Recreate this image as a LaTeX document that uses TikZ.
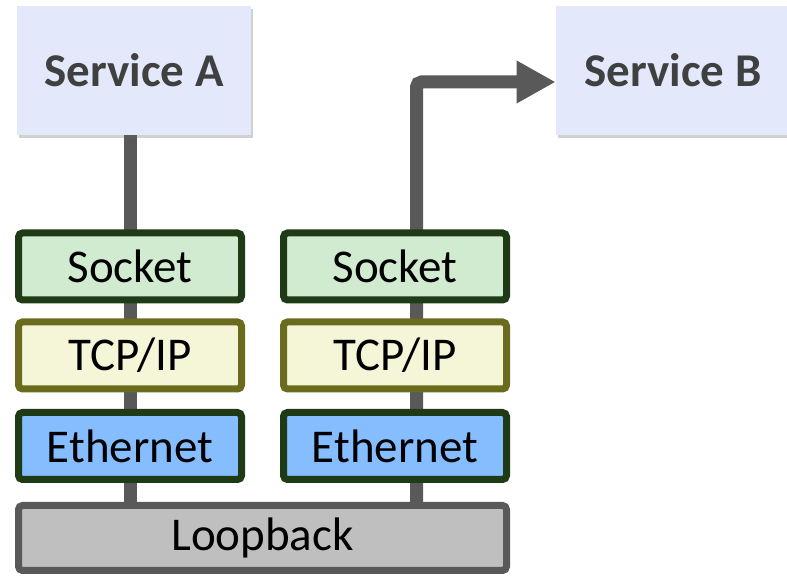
\documentclass[tikz,border=0pt]{standalone}
\usepackage{fontspec}
\setmainfont{Carlito}
\usetikzlibrary{arrows.meta,shadows,backgrounds}

\definecolor{srvfill}{HTML}{E3E9FB}
\definecolor{srvtext}{HTML}{404040}
\definecolor{wire}{HTML}{595959}
\definecolor{sockfill}{HTML}{D1EBD0}
\definecolor{sockdraw}{HTML}{1E3B16}
\definecolor{tcpfill}{HTML}{F5F6D8}
\definecolor{tcpdraw}{HTML}{6B6B1E}
\definecolor{ethfill}{HTML}{85BDFF}
\definecolor{lbkfill}{HTML}{BFBFBF}

\tikzset{
    service/.style={fill=srvfill, text=srvtext, minimum width=117pt, minimum height=64.5pt,
        inner sep=0pt, font=\fontsize{23.5}{28}\selectfont\bfseries,
        drop shadow={shadow xshift=1pt, shadow yshift=-1.5pt, opacity=0.3, fill=black!60}},
    layer/.style={draw, line width=3.5pt, rounded corners=2pt, minimum width=111.5pt,
        minimum height=33.5pt, inner sep=0pt, font=\fontsize{23.5}{28}\selectfont,
        drop shadow={shadow xshift=1pt, shadow yshift=-1.5pt, opacity=0.15, fill=black!60}},
    sockbox/.style={layer, fill=sockfill, draw=sockdraw},
    tcpbox/.style={layer, fill=tcpfill, draw=tcpdraw},
    ethbox/.style={layer, fill=ethfill, draw=sockdraw},
    wireline/.style={draw=wire, line width=6.5pt},
}

\begin{document}
\begin{tikzpicture}[x=0.5pt, y=-0.5pt]
    \useasboundingbox (0,0) rectangle (787,576);

    % Servicos
    \node[service] (srvA) at (134,70.5) {Service A};
    \node[service] (srvB) at (673,70.5) {Service B};

    % Pilha esquerda
    \node[sockbox] (sockL) at (130,266.5) {Socket};
    \node[tcpbox]  (tcpL)  at (130,355.5) {TCP/IP};
    \node[ethbox]  (ethL)  at (130,446)   {Ethernet};

    % Pilha direita
    \node[sockbox] (sockR) at (395,266.5) {Socket};
    \node[tcpbox]  (tcpR)  at (395,355.5) {TCP/IP};
    \node[ethbox]  (ethR)  at (395,446)   {Ethernet};

    % Loopback
    \node[layer, fill=lbkfill, draw=wire, minimum width=244pt, minimum height=32.5pt]
        (lbk) at (262.5,538) {Loopback};

    % Caminho dos dados
    \coordinate (bend) at (416.5,82);
    \begin{scope}[on background layer]
        \draw[wireline] (srvA.south -| sockL) -- (lbk.north -| sockL);
        \draw[wireline, rounded corners=2.5pt, -{Triangle[length=19.5pt, width=20pt]}]
            (lbk.north -| bend) -- (bend) -- (srvB.west |- bend);
    \end{scope}
\end{tikzpicture}
\end{document}
